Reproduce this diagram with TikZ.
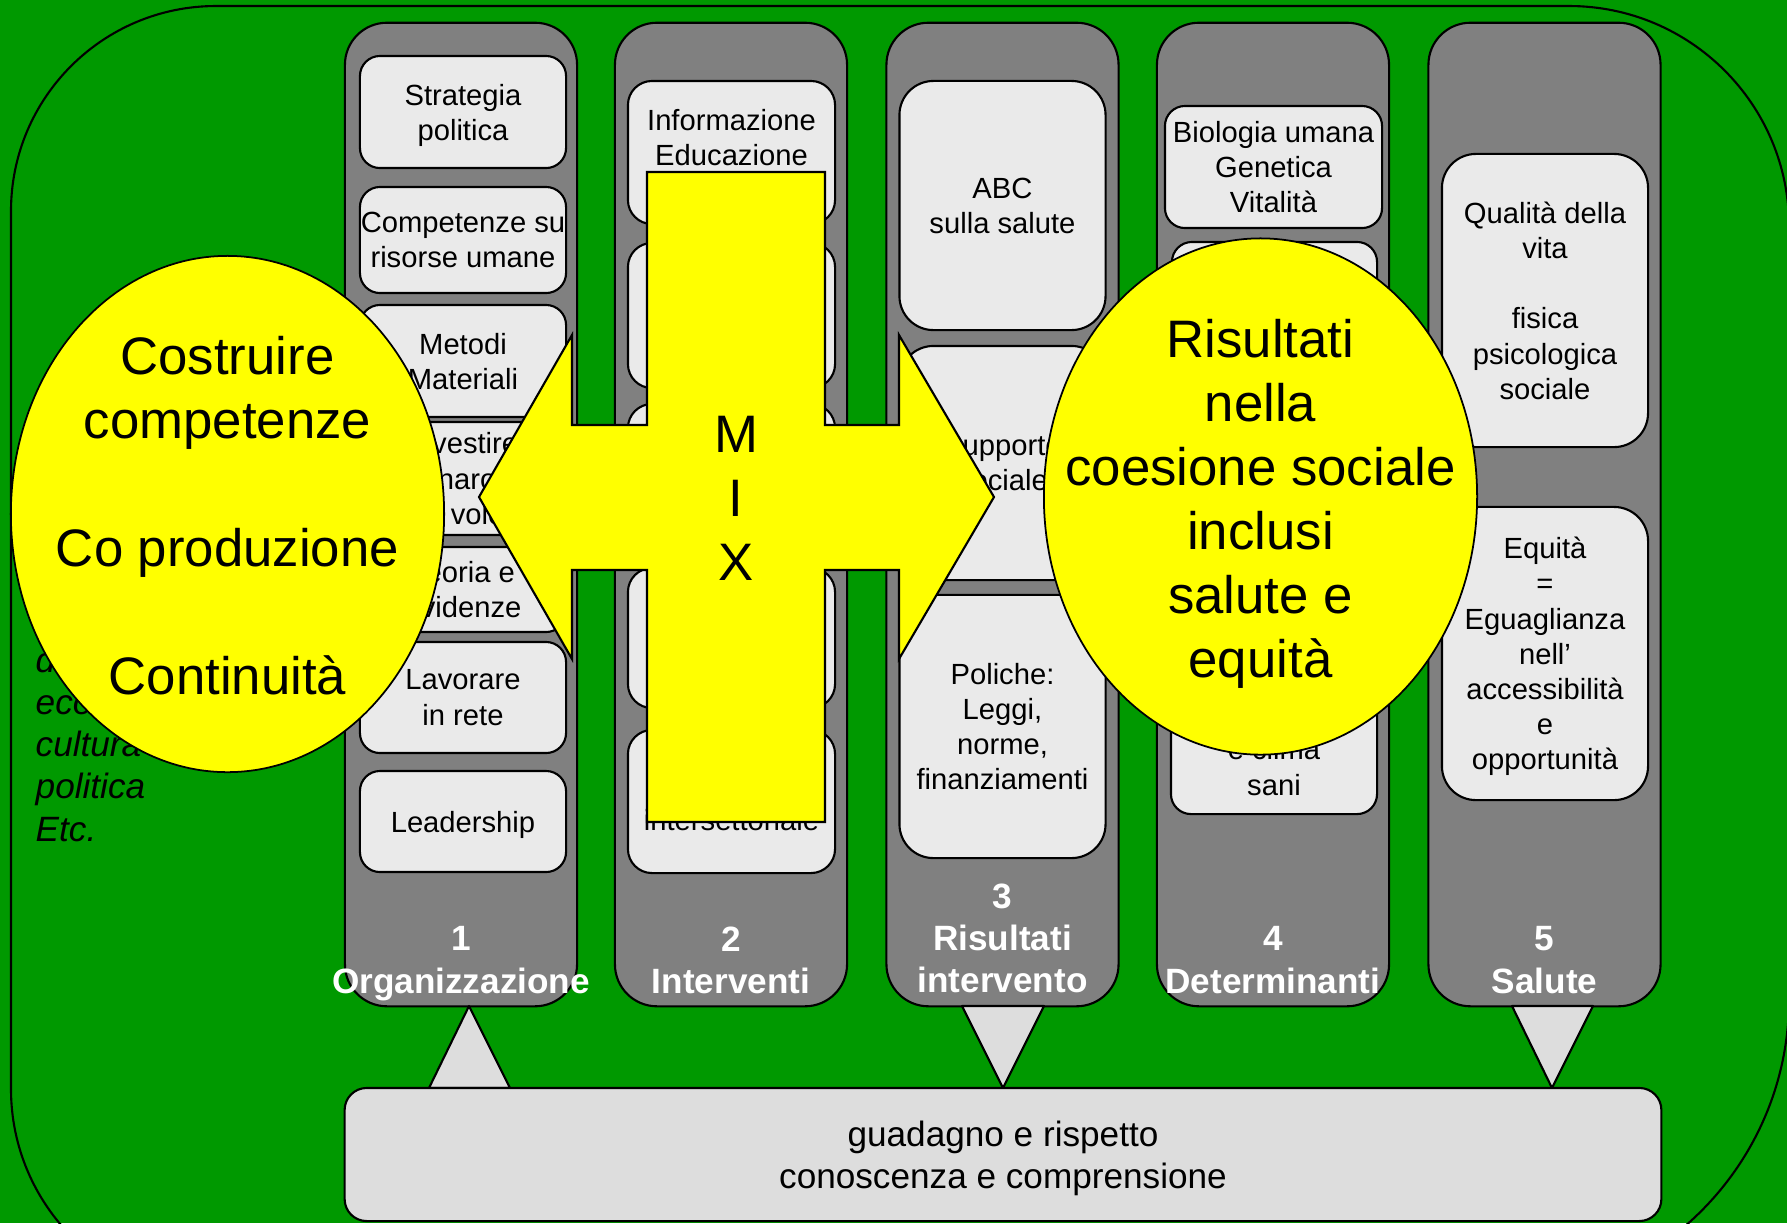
\documentclass[tikz,border=0pt]{standalone}
\usepackage{fontspec}
\setmainfont{Liberation Sans}
\usetikzlibrary{shapes.geometric,positioning}

\definecolor{bggreen}{RGB}{0,153,0}
\definecolor{colgray}{RGB}{128,128,128}
\definecolor{cardgray}{RGB}{234,234,234}
\definecolor{footgray}{RGB}{221,221,221}
\definecolor{mixyellow}{RGB}{255,255,0}

\tikzset{
  colbar/.style={draw, fill=colgray, line width=0.6pt, rounded corners=0.42cm,
    minimum width=2.32cm, minimum height=9.83cm, inner sep=0pt},
  card/.style={draw, fill=cardgray, line width=0.6pt, rounded corners=0.2cm,
    minimum width=2.06cm, inner sep=0pt, align=center, text depth=0pt,
    font=\fontsize{8.3}{10}\selectfont},
  tallcard/.style={card, rounded corners=0.34cm},
  cardtext/.style={inner sep=0pt, align=center, font=\fontsize{8.3}{10}\selectfont},
  colname/.style={inner sep=0pt, align=center, text=white,
    font=\fontsize{10}{12}\selectfont\bfseries},
  bubble/.style={ellipse, draw, fill=mixyellow, line width=0.5pt,
    minimum width=4.33cm, minimum height=5.16cm, inner sep=0pt},
  bigtext/.style={inner sep=0pt, align=center, font=\fontsize{15}{18.2}\selectfont},
  wedge/.style={draw, fill=footgray, line width=0.6pt, line join=round}
}

\begin{document}
\begin{tikzpicture}[x=0.01cm, y=-0.01cm]
    \useasboundingbox (0,0) rectangle (1787,1223);
    \clip (0,0) rectangle (1787,1223);

    % Background and frame
    \fill [bggreen] (0,0) rectangle (1787,1223);
    \draw [line width=0.6pt] (11,1089) -- (11,211)
        arc [start angle=180, end angle=270, radius=205] -- (1569,6)
        arc [start angle=270, end angle=360, radius=220] -- (1789,999)
        arc [start angle=0, end angle=90, radius=300] -- (221,1299)
        arc [start angle=90, end angle=180, radius=210] -- cycle;

    % Context (mostly behind the left bubble)
    \node [anchor=north west, inner sep=0pt, align=left,
        font=\fontsize{10}{12}\selectfont\itshape] (context) at (35,646)
        {d\\eco\\cultura\\politica\\Etc.};

    % Columns
    \node [colbar] (org) at (461,514.5) {};
    \node [colbar] (intv) at (731,514.5) {};
    \node [colbar] (res) at (1002.5,514.5) {};
    \node [colbar] (det) at (1273,514.5) {};
    \node [colbar] (sal) at (1544.5,514.5) {};

    % 1 Organizzazione
    \node [card, minimum height=1.12cm] (strat) at (463,112) {Strategia\\politica};
    \node [card, minimum height=1.06cm] (comp) at (463,240) {Competenze su\\risorse umane};
    \node [card, minimum height=1.12cm] (meth) at (463,361) {Metodi\\Materiali};
    \node [card, minimum height=1.13cm] (inv) at (463,478.5) {Investire\\denaro e\\della volontà};
    \node [card, minimum height=0.85cm] (theo) at (463,589.5) {Teoria e\\evidenze};
    \node [card, minimum height=1.11cm] (net) at (463,697.5) {Lavorare\\in rete};
    \node [card, minimum height=1.01cm] (lead) at (463,821.5) {Leadership};

    % 2 Interventi
    \node [card, minimum width=2.07cm, minimum height=1.43cm, rounded corners=0.24cm] (info) at (731.5,152.5) {};
    \node [cardtext, below=0.29cm of info.north] {Informazione\\Educazione};
    \node [card, minimum width=2.07cm, minimum height=1.45cm, rounded corners=0.24cm] (int2) at (731.5,315.5) {};
    \node [card, minimum width=2.07cm, minimum height=1.49cm, rounded corners=0.24cm] (int3) at (731.5,478.5) {};
    \node [card, minimum width=2.07cm, minimum height=1.40cm, rounded corners=0.24cm] (int4) at (731.5,638) {};
    \node [card, minimum width=2.07cm, minimum height=1.43cm, rounded corners=0.24cm] (int5) at (731.5,801.5) {};
    \node [cardtext, anchor=base] at (731.5,830) {intersettoriale};

    % 3 Risultati intervento
    \node [tallcard, minimum height=2.49cm] (abc) at (1002.5,205.5) {ABC\\sulla salute};
    \node [tallcard, minimum height=2.34cm] (supp) at (1002.5,463) {Supporto\\sociale};
    \node [tallcard, minimum height=2.63cm] (pol) at (1002.5,726.5) {Poliche:\\Leggi,\\norme,\\finanziamenti};

    % 4 Determinanti
    \node [card, minimum width=2.17cm, minimum height=1.22cm] (bio) at (1273.5,167) {Biologia umana\\Genetica\\Vitalità};
    \node [card, minimum width=2.05cm, minimum height=1.78cm] (det2) at (1274.5,331) {};
    \node [card, minimum width=2.05cm, minimum height=1.50cm] (det3) at (1274.5,510) {};
    \node [card, minimum width=2.06cm, minimum height=2.14cm] (env) at (1274,707) {};
    \node [cardtext, anchor=south] at (1274,796) {e clima\\sani};

    % 5 Salute
    \node [tallcard, minimum height=2.93cm] (qual) at (1545,300.5)
        {Qualità della\\vita\\[10pt]fisica\\psicologica\\sociale};
    \node [tallcard, minimum height=2.93cm] (eq) at (1545,653.5)
        {Equità\\=\\Eguaglianza\\nell’\\accessibilità\\e\\opportunità};

    % Column titles
    \node [colname, anchor=north] at (461,926) {1\\Organizzazione};
    \node [colname, anchor=north] at (731,926) {2\\Interventi};
    \node [colname, anchor=north] at (1002.5,883) {3\\Risultati\\intervento};
    \node [colname, anchor=north] at (1273,926) {4\\Determinanti};
    \node [colname, anchor=north] at (1544.5,926) {5\\Salute};

    % Feedback wedges
    \draw [wedge] (469,1006) -- (510,1088) -- (429,1088) -- cycle;
    \draw [wedge] (962,1006) -- (1044,1006) -- (1003,1088) -- cycle;
    \draw [wedge] (1512,1006) -- (1593,1006) -- (1552,1088) -- cycle;

    % Knowledge box
    \node [draw, fill=footgray, line width=0.6pt, rounded corners=0.22cm,
        minimum width=13.16cm, minimum height=1.33cm, inner sep=0pt, align=center,
        font=\fontsize{10}{12}\selectfont, text depth=-0.16em] (gain) at (1003,1154.5)
        {guadagno e rispetto\\conoscenza e comprensione};

    % Left bubble
    \node [bubble] (build) at (227.5,514) {};
    \node [bigtext, yshift=-0.02cm] at (build) {Costruire\\competenze\\[18.2pt]Co produzione\\[18.2pt]Continuità};

    % MIX cross
    \draw [fill=mixyellow, line width=0.6pt] (647,172) -- (825,172) -- (825,425)
        -- (899,425) -- (899,335) -- (994,497) -- (899,659) -- (899,570)
        -- (825,570) -- (825,822) -- (647,822) -- (647,570) -- (572,570)
        -- (572,659) -- (479,497) -- (572,335) -- (572,425) -- (647,425) -- cycle;
    \node [bigtext] (mix) at (736,498) {M\\I\\X};

    % Right bubble
    \node [bubble] (outcome) at (1260.5,496.5) {};
    \node [bigtext, yshift=-0.07cm] at (outcome) {Risultati\\nella\\coesione sociale\\inclusi\\salute e\\equità};
\end{tikzpicture}
\end{document}
